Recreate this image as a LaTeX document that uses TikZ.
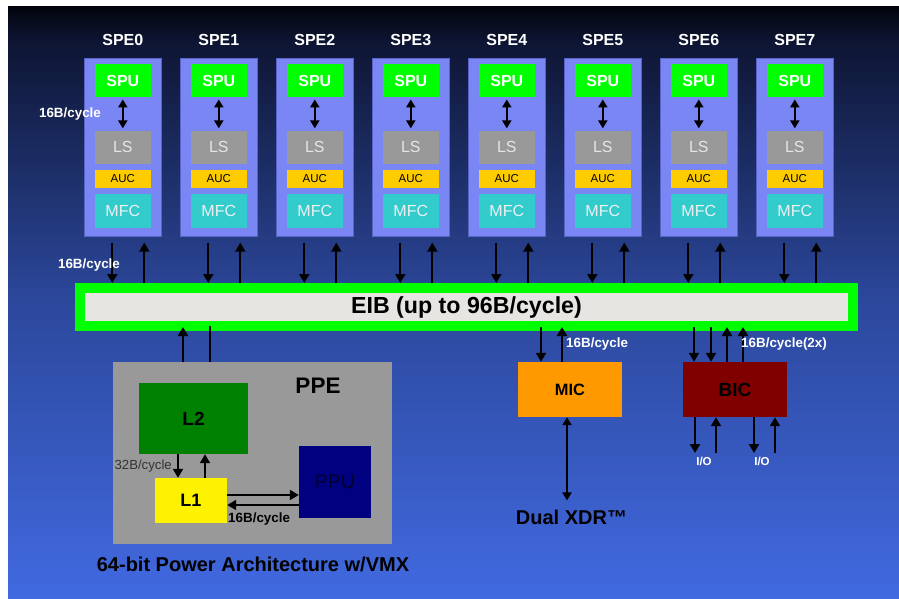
\documentclass[tikz,border=0pt]{standalone}
\usepackage{fontspec}
\setmainfont{Liberation Sans}
\usetikzlibrary{positioning,arrows.meta,calc}

\definecolor{speblue}{HTML}{7B86F5}
\definecolor{speedge}{HTML}{5A64C8}
\definecolor{spugreen}{HTML}{00FF00}
\definecolor{lsgray}{HTML}{999999}
\definecolor{aucyellow}{HTML}{FFCC00}
\definecolor{mfccyan}{HTML}{33CCCC}
\definecolor{eibgray}{HTML}{E6E5E2}
\definecolor{l2green}{HTML}{008000}
\definecolor{ppunavy}{HTML}{000080}
\definecolor{micorange}{HTML}{FF9900}
\definecolor{bicred}{HTML}{800000}
\definecolor{bgtop}{HTML}{02040C}
\definecolor{bgnavy}{HTML}{0E1533}
\definecolor{bgmid}{HTML}{2C489C}
\definecolor{bgbottom}{HTML}{4169E0}

\begin{document}
\begin{tikzpicture}[x=1pt, y=-1pt,
    box/.style={rectangle, inner sep=0pt, align=center},
    spebox/.style={box, fill=speblue, draw=speedge, line width=0.6pt, minimum width=77pt, minimum height=178pt, anchor=north west},
    unit/.style={box, minimum width=56pt},
    title/.style={font=\fontsize{16}{18}\selectfont\bfseries, text=white},
    rate/.style={inner sep=0pt, font=\fontsize{13.4}{15}\selectfont\bfseries, text=white},
    arrow/.style={-{Triangle[length=9pt, width=10pt]}, line width=2pt},
    biarrow/.style={{Triangle[length=8pt, width=9pt]}-{Triangle[length=8pt, width=9pt]}, line width=2.4pt},
]

% Background, dark at the top and blue at the bottom
\useasboundingbox (0,0) rectangle (899,598);
\shade[top color=bgtop, bottom color=bgnavy] (8,6) rectangle (899,40.5);
\shade[top color=bgnavy, bottom color=bgmid] (8,40) rectangle (899,300.5);
\shade[top color=bgmid, bottom color=bgbottom] (8,300) rectangle (899,598);

% Element interconnect bus
\node[box, fill=eibgray, draw=spugreen, line width=10pt, minimum width=773pt, minimum height=38pt,
      font=\fontsize{23.2}{26}\selectfont\bfseries] (eib) at (466.5,307) {EIB (up to 96B/cycle)};

% Eight SPEs in a row
\foreach \i in {0,...,7} {
    \node[spebox] (spe\i) at ({84+96*\i},58) {};
    \node[title] (spename\i) at ($(spe\i.north)+(0,-18)$) {SPE\i};
    \node[unit, title, fill=spugreen, minimum height=33pt, below=6pt of spe\i.north] (spu\i) {SPU};
    \node[unit, fill=lsgray, minimum height=33pt, text=white!90!black, font=\fontsize{16}{18}\selectfont, below=33pt of spu\i] (ls\i) {LS};
    \node[unit, fill=aucyellow, minimum height=18pt, font=\fontsize{11.5}{13}\selectfont, below=6pt of ls\i] (auc\i) {AUC};
    \node[unit, fill=mfccyan, minimum height=34pt, text=white!94!black, font=\fontsize{16}{18}\selectfont, below=6pt of auc\i] (mfc\i) {MFC};
    \draw[biarrow, shorten <=2pt, shorten >=2pt] (spu\i) -- (ls\i);
    \draw[arrow] ([xshift=-10.5pt,yshift=-6pt]spe\i.south) -- ([xshift=-10.5pt]spe\i.south |- eib.north);
    \draw[arrow] ([xshift=21.5pt]spe\i.south |- eib.north) -- ([xshift=21.5pt,yshift=-6pt]spe\i.south);
}
\node[rate] (spurate) at (70,114) {16B/cycle};
\node[rate] (busrate) at (89,265) {16B/cycle};

% PPE with its caches
\node[box, fill=lsgray, minimum width=279pt, minimum height=182pt] (ppe) at (252.5,453) {};
\node[font=\fontsize{22.5}{24}\selectfont\bfseries] (ppename) at (318,386) {PPE};
\node[box, fill=l2green, minimum width=109pt, minimum height=71pt, font=\fontsize{19}{21}\selectfont\bfseries] (l2) at (193.5,418.5) {L2};
\node[box, fill=yellow, minimum width=72pt, minimum height=45pt, font=\fontsize{18}{20}\selectfont\bfseries] (l1) at (191,500.5) {L1};
\node[box, fill=ppunavy, minimum width=72pt, minimum height=72pt, text=ppunavy!35!black, font=\fontsize{19.5}{21}\selectfont] (ppu) at (335,482) {PPU};
\draw[arrow] ([xshift=-15.5pt]l2.south) -- ([xshift=-15.5pt]l2.south |- l1.north);
\draw[arrow] ([xshift=11.5pt]l2.south |- l1.north) -- ([xshift=11.5pt]l2.south);
\draw[arrow] ([yshift=5.5pt]l1.east) -- ([yshift=5.5pt]l1.east -| ppu.west);
\draw[arrow] ([yshift=-4.5pt]l1.east -| ppu.west) -- ([yshift=-4.5pt]l1.east);
\node[inner sep=0pt, anchor=east, text=black!80, font=\fontsize{13.2}{15}\selectfont] (l2rate) at (172,466) {32B/cycle};
\node[inner sep=0pt, anchor=west, font=\fontsize{13.4}{15}\selectfont\bfseries] (l1rate) at (228,519) {16B/cycle};
\node[font=\fontsize{20}{22}\selectfont\bfseries] (ppecaption) at (253,564) {64-bit Power Architecture w/VMX};
\draw[arrow, shorten >=-4pt] ([xshift=-69.5pt]ppe.north) -- ([xshift=-69.5pt]ppe.north |- eib.south);
\draw[line width=2pt, shorten <=-5pt] ([xshift=-42.5pt]ppe.north |- eib.south) -- ([xshift=-42.5pt]ppe.north);

% Memory interface
\node[box, fill=micorange, minimum width=104pt, minimum height=55pt, font=\fontsize{16.4}{18}\selectfont\bfseries] (mic) at (570,389.5) {MIC};
\draw[arrow, shorten <=-4pt] ([xshift=-29pt]mic.north |- eib.south) -- ([xshift=-29pt]mic.north);
\draw[arrow, shorten >=-4pt] ([xshift=-8pt]mic.north) -- ([xshift=-8pt]mic.north |- eib.south);
\node[rate, anchor=west] (micrate) at (566,344) {16B/cycle};
\node[inner sep=0pt, font=\fontsize{20}{22}\selectfont\bfseries] (xdr) at (571.5,517) {Dual XDR™};
\draw[biarrow, shorten >=9pt] ([xshift=-3pt]mic.south) -- ([xshift=-3pt]mic.south |- xdr.north);

% Bus interface
\node[box, fill=bicred, minimum width=104pt, minimum height=55pt, font=\fontsize{19}{21}\selectfont\bfseries] (bic) at (735,389.5) {BIC};
\foreach \dx in {-41,-24}
    \draw[arrow, shorten <=-4pt] ([xshift=\dx pt]bic.north |- eib.south) -- ([xshift=\dx pt]bic.north);
\foreach \dx in {-8,8}
    \draw[arrow, shorten >=-4pt] ([xshift=\dx pt]bic.north) -- ([xshift=\dx pt]bic.north |- eib.south);
\node[rate, anchor=west] (bicrate) at (741,344) {16B/cycle(2x)};
\node[rate, font=\fontsize{11.5}{13}\selectfont\bfseries] (io1) at (704,461) {I/O};
\node[rate, font=\fontsize{11.5}{13}\selectfont\bfseries] (io2) at (762,461) {I/O};
\draw[arrow, shorten >=3.5pt] ([xshift=-40pt]bic.south) -- ([xshift=-40pt]bic.south |- io1.north);
\draw[arrow, shorten <=3.5pt] ([xshift=-19pt]bic.south |- io1.north) -- ([xshift=-19pt]bic.south);
\draw[arrow, shorten >=3.5pt] ([xshift=19pt]bic.south) -- ([xshift=19pt]bic.south |- io2.north);
\draw[arrow, shorten <=3.5pt] ([xshift=40pt]bic.south |- io2.north) -- ([xshift=40pt]bic.south);

\end{tikzpicture}
\end{document}
